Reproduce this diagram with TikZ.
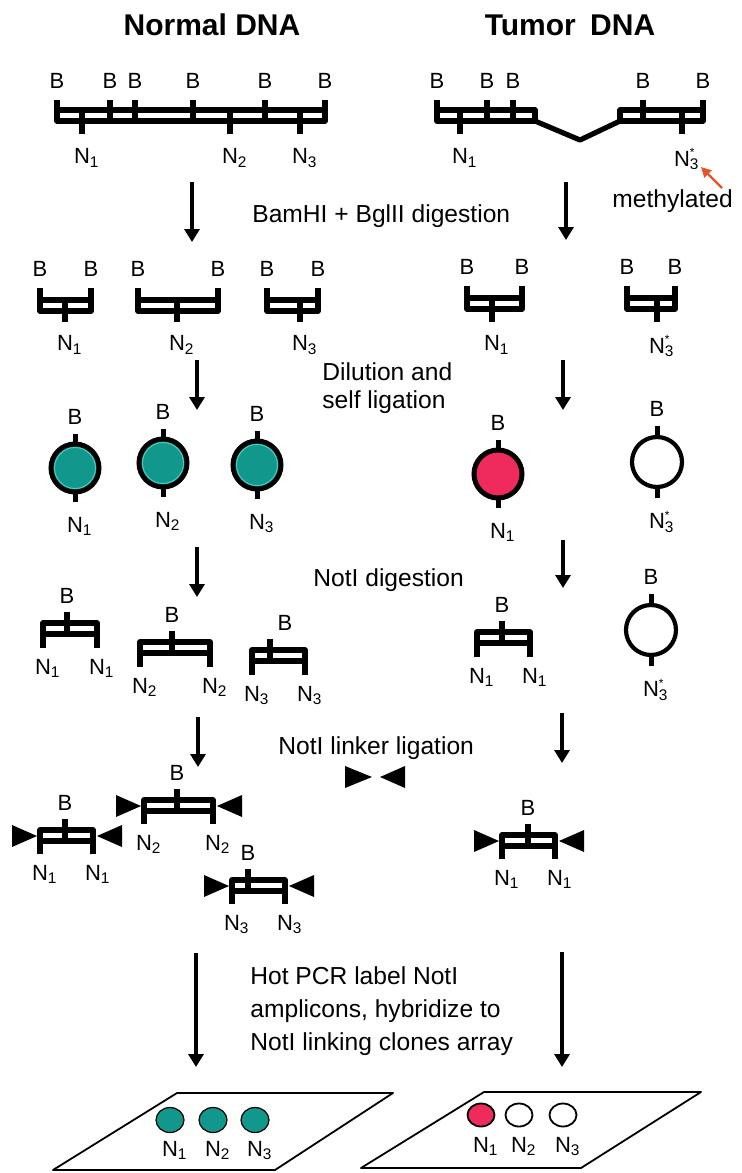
\documentclass[tikz,border=0pt]{standalone}
\usepackage{fontspec}
\setmainfont{Liberation Sans}
\usepackage{tikz}
\usetikzlibrary{arrows.meta,positioning}

\definecolor{cellteal}{HTML}{12978C}
\definecolor{cellhi}{HTML}{45CDBE}
\definecolor{cellred}{HTML}{EE2B5C}
\definecolor{methred}{HTML}{E8542A}

\newcommand{\Nn}[1]{N\rlap{\textsubscript{#1}}}
\newcommand{\Nm}{N\rlap{\raisebox{4.6pt}{\fontsize{6}{6}\selectfont *}}\rlap{\textsubscript{3}}}

\begin{document}
\begin{tikzpicture}[
        x=0.5pt, y=-0.5pt,
        strand/.style={line width=2.6pt, line join=round},
        ring/.style={line width=2.5pt},
        site/.style={font=\fontsize{11}{12}\selectfont, inner sep=0pt},
        note/.style={font=\fontsize{12.3}{16.5}\selectfont, inner sep=0pt, align=left},
        title/.style={font=\fontsize{15}{18}\selectfont\bfseries, inner sep=0pt},
        flow/.style={line width=2pt, ->, >={Triangle[length=6.5pt,width=7.5pt]}},
        linker/.style={fill=black},
        chip/.style={line width=0.9pt, line join=round},
        spot/.style={line width=0.6pt}
    ]
    \useasboundingbox (0,0) rectangle (741,1173);

    \node[title] (normal) at (212,25) {Normal DNA};
    \node[title] (tumor) at (570,25) {Tumor\hspace{3pt} DNA};

    \draw[strand] (57,110) rectangle (325,121);
    \foreach \bx in {57,110,135,193,265,325}
        \draw[strand] (\bx,121) -- (\bx,100) node[site,above=4.5pt] (gB\bx) {B};
    \foreach \nx/\kk in {82/1,230/2,300/3}
        \draw[strand] (\nx,110) -- (\nx,134) node[site,below=6pt] (gN\kk) {\Nn{\kk}};

    \draw[strand] (437,110) rectangle (535,121);
    \draw[strand] (620,110) rectangle (703,121);
    \draw[strand] (535,121) -- (580,140) -- (620,121);
    \foreach \bx in {437,487,513,643,703}
        \draw[strand] (\bx,121) -- (\bx,100) node[site,above=4.5pt] (tB\bx) {B};
    \draw[strand] (460,110) -- (460,134) node[site,below=6pt] (tN1) {\Nn{1}};
    \draw[strand] (682,110) -- (682,134) node[site,below=6pt] (tN3) {\Nm};

    \node[note, anchor=base west] (meth) at (612,207) {methylated};
    \coordinate (methtail) at (722,188);
    \coordinate (methtip) at (701,167);
    \draw[methred, line width=1.2pt, -{Triangle[length=5pt,width=5pt]}] (methtail) -- (methtip);

    \foreach \xx/\sy/\ey [count=\i] in {192/182/242,566/182/240,197/360/410,563/360/410,197/547/597,
                                         563/540/588,198/717/767,562/713/763,196/953/1067,562/952/1067}{
        \coordinate (as\i) at (\xx,\sy);
        \coordinate (ae\i) at (\xx,\ey);
        \draw[flow] (as\i) -- (ae\i);
    }

    \node[note, anchor=base west] (bam) at (252,222) {BamHI + BglII digestion};
    \node[note, anchor=north west, font=\fontsize{12.3}{14}\selectfont] (dil) at (322,362) {Dilution and\\self ligation};
    \node[note, anchor=base west] (notd) at (313,586) {NotI digestion};
    \node[note, anchor=base west] (notl) at (278,754) {NotI linker ligation};
    \node[note, anchor=north west] (pcr) at (250,966) {Hot PCR label NotI\\amplicons, hybridize to\\NotI linking clones array};

    \foreach \lx/\rx/\nx/\ty/\lab [count=\kk] in {40/91/65/300/{\Nn{1}},138/218/177/300/{\Nn{2}},267/318/300/300/{\Nn{3}},
                                                  467/522/492/298/{\Nn{1}},627/675/657/298/{\Nm}}{
        \draw[strand] (\lx,\ty) rectangle (\rx,\ty+11);
        \draw[strand] (\lx,\ty+11) -- (\lx,\ty-12) node[site,above=4.3pt] (fBl\kk) {B};
        \draw[strand] (\rx,\ty+11) -- (\rx,\ty-12) node[site,above=4.3pt] (fBr\kk) {B};
        \draw[strand] (\nx,\ty) -- (\nx,322) node[site,below=5.5pt] (fN\kk) {\lab};
    }

    \foreach \cx/\cy/\kk in {75/468/1,163/463/2,257/465/3}{
        \draw[ring] (\cx,\cy-24) -- (\cx,\cy-34) node[site,above=3.5pt] (cB\kk) {B};
        \draw[ring] (\cx,\cy+24) -- (\cx,\cy+34) node[site,below=6.5pt] (cN\kk) {\Nn{\kk}};
        \draw[ring, fill=cellteal] (\cx,\cy) circle[radius=24];
        \draw[cellhi, line width=0.5pt] (\cx,\cy) circle[radius=20.5];
    }
    \draw[ring] (498,450) -- (498,440) node[site,above=3.5pt] (rB) {B};
    \draw[ring] (498,498) -- (498,508) node[site,below=6.5pt] (rN) {\Nn{1}};
    \draw[ring, fill=cellred] (498,474) circle[radius=24];
    \foreach \cx/\cy/\kk in {657/462/1,651/630/2}{
        \draw[ring] (\cx,\cy-25) -- (\cx,\cy-36) node[site,above=3.5pt] (oB\kk) {B};
        \draw[ring] (\cx,\cy+25) -- (\cx,\cy+36) node[site,below=5.5pt] (oN\kk) {\Nm};
        \draw[line width=2.1pt, fill=white] (\cx,\cy) circle[radius=25];
    }

    \foreach \lx/\rx/\ty/\mx/\kk/\bs in {43/97/623/67/1/0,140/210/642/172/2/0,252/305/650/270/3/7.5,477/530/632/502/1/0}{
        \draw[strand] (\lx,\ty+25) -- (\lx,\ty) -- (\rx,\ty) -- (\rx,\ty+25);
        \draw[strand] (\lx,\ty+11) -- (\rx,\ty+11);
        \draw[strand] (\mx,\ty+11) -- (\mx,\ty-11) node[site,above=3pt,xshift=\bs pt] (dB\lx) {B};
        \node[site,below=5.5pt] (dNl\lx) at (\lx,\ty+25) {\Nn{\kk}};
        \node[site,below=5.5pt] (dNr\lx) at (\rx,\ty+25) {\Nn{\kk}};
    }

    \fill[linker] (372,777) -- (345,766) -- (345,788) -- cycle;
    \fill[linker] (380,777) -- (405,766) -- (405,788) -- cycle;

    \foreach \lx/\rx/\ty/\mx/\kk in {144/213/800/177/2,40/93/830/65/1,232/285/880/248/3,502/555/835/528/1}{
        \draw[strand] (\lx,\ty+24) -- (\lx,\ty) -- (\rx,\ty) -- (\rx,\ty+24);
        \draw[strand] (\lx,\ty+11) -- (\rx,\ty+11);
        \draw[strand] (\mx,\ty+11) -- (\mx,\ty-11) node[site,above=3pt] (lB\lx) {B};
        \node[site,below=5.5pt] (lNl\lx) at (\lx,\ty+24) {\Nn{\kk}};
        \node[site,below=5.5pt] (lNr\lx) at (\rx,\ty+24) {\Nn{\kk}};
        \fill[linker] (\lx-3,\ty+6) -- (\lx-28,\ty-5) -- (\lx-28,\ty+17) -- cycle;
        \fill[linker] (\rx+4,\ty+6) -- (\rx+29,\ty-5) -- (\rx+29,\ty+17) -- cycle;
    }

    \draw[chip] (177,1093) -- (393,1093) -- (275,1170) -- (53,1170) -- cycle;
    \draw[chip] (484,1092) -- (701,1092) -- (581,1168) -- (361,1168) -- cycle;
    \foreach \cx/\kk in {170/1,213/2,255/3}{
        \draw[spot, fill=cellteal] (\cx,1120) ellipse[x radius=14, y radius=12.5];
        \node[site,below=4pt] (aN\kk) at (\cx,1132.5) {\Nn{\kk}};
    }
    \foreach \cx/\kk/\col in {481/1/cellred,519/2/white,563/3/white}{
        \draw[spot, line width=0.9pt, fill=\col] (\cx,1115) ellipse[x radius=13.5, y radius=11.5];
        \node[site,below=5pt] (bN\kk) at (\cx,1126.5) {\Nn{\kk}};
    }
\end{tikzpicture}
\end{document}
